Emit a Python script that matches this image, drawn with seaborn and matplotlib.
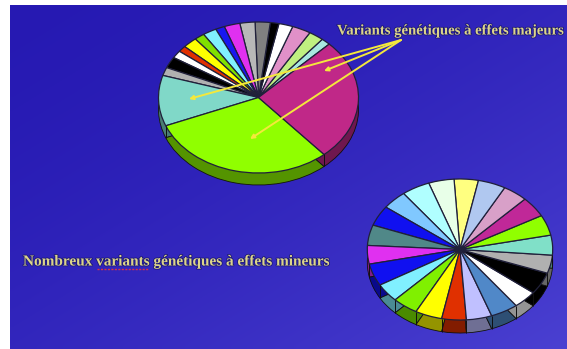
import numpy as np
import matplotlib
matplotlib.use("Agg")
import matplotlib.pyplot as plt
import matplotlib.patheffects as pe
import seaborn as sns

# Top pie: a few major variants, then many small contributions (slice sizes in degrees)
major_sizes = [5.4, 8.7, 10.9, 8.2, 5.0, 8.8, 8.8, 9.2, 5.3, 8.0, 5.9, 8.4, 4.7, 5.8, 8.6, 6.3, 39.0, 109.0, 94.0]
major_colors = ["#a8e8e0", "#c0f080", "#e090c8", "#ffffff", "#000000", "#808080", "#b8b8b8", "#e030f0",
                "#1818f0", "#80f0ff", "#80e000", "#ffff00", "#e03000", "#ffffff", "#000000", "#b0b0b0",
                "#80d8c8", "#90ff00", "#c02888"]

# Bottom pie: many variants of about equal effect
minor_sizes = [15.2, 16.0, 17.8, 15.6, 16.7, 16.9, 15.3, 18.3, 15.3, 16.1, 16.9, 15.4, 16.0, 17.3, 14.9,
               18.2, 15.0, 16.4, 16.9, 16.9, 15.6, 17.3]
minor_colors = ["#ffff80", "#e8ffe8", "#b0ffff", "#80c8ff", "#1010f0", "#508888", "#e030f0", "#1010f0",
                "#80f0ff", "#80f000", "#ffff00", "#e03000", "#c0c0ff", "#5088c8", "#ffffff", "#000000",
                "#b0b0b0", "#80e0c8", "#90ff00", "#c02898", "#d8a0c8", "#b0c8f0"]

major_title = "Variants génétiques à effets majeurs"
minor_title = "Nombreux variants génétiques à effets mineurs"

W, H = 567, 349

sns.set_theme(style="white", rc={"font.family": ["Liberation Serif"]})
fig = plt.figure(figsize=(W / 100, H / 100), dpi=100, facecolor="white")


def pixel_axes(left, top, width, height, z):
    return fig.add_axes([left / W, 1 - (top + height) / H, width / W, height / H], zorder=z)


# Slide background: blue gradient, lighter toward the lower right corner
bg = pixel_axes(10, 5, W - 10, H - 5, 0)
yy, xx = np.mgrid[0:1:60j, 0:1:100j]
mix = ((xx + yy) / 2)[..., None] ** 1.6
bg.imshow(np.array([0.15, 0.10, 0.70]) * (1 - mix) + np.array([0.29, 0.25, 0.82]) * mix,
          aspect="auto", interpolation="bilinear")
bg.axis("off")


def draw_pie(cx, cy, rx, ry, depth, sizes, colors, start):
    d = depth / ry
    ax = pixel_axes(cx - rx * 1.03, cy - ry * 1.03, rx * 2.06, ry * 2.06 + depth, 2)
    side = [tuple(np.array(matplotlib.colors.to_rgb(c)) * 0.58) for c in colors]
    # Stack darker copies downward to form the rim
    for off in np.linspace(d, 0.01, int(depth * 2)):
        ax.pie(sizes, colors=side, startangle=start, center=(0, -off), radius=1,
               wedgeprops=dict(linewidth=0))
    ax.pie(sizes, colors=side, startangle=start, center=(0, -d), radius=1,
           wedgeprops=dict(linewidth=0.6, edgecolor="#101010"))
    edges = np.radians(start + np.cumsum(sizes))
    lower = edges[np.sin(edges) < 0]
    ax.vlines(np.cos(lower), np.sin(lower) - d, np.sin(lower), color="#101010", lw=0.7)
    ax.pie(sizes, colors=colors, startangle=start, center=(0, 0), radius=1,
           wedgeprops=dict(linewidth=0.9, edgecolor="#20203a"))
    ax.set_aspect("auto")
    ax.set_xlim(-1.03, 1.03)
    ax.set_ylim(-1.03 - d, 1.03)
    ax.axis("off")


draw_pie(258.5, 97.5, 100, 75.5, 12, major_sizes, major_colors, 45)
draw_pie(460, 249.5, 92.7, 70.5, 13, minor_sizes, minor_colors, 78.5)

# Overlay in pixel coordinates for captions and pointer lines
top = pixel_axes(0, 0, W, H, 5)
top.set_xlim(0, W)
top.set_ylim(H, 0)
top.axis("off")
top.patch.set_alpha(0)

shadow = [pe.withStroke(linewidth=1.2, foreground="#1c1878")]
top.text(337, 31, major_title, color="#dcd48a", fontsize=10.6, fontweight="bold", va="center",
         path_effects=shadow)
top.text(23, 262, minor_title, color="#dcd48a", fontsize=11, fontweight="bold", va="center",
         path_effects=shadow)
top.plot([97, 149], [268.5, 268.5], color="#d83048", lw=1.0, ls=(0, (1.5, 1)))

for target in [(189, 99), (324, 71), (250, 139)]:
    top.annotate("", xy=target, xytext=(401, 40),
                 arrowprops=dict(arrowstyle="-|>,head_length=0.2,head_width=0.1", color="#f4e83c",
                                 lw=1.4, shrinkA=0, shrinkB=0))

fig.savefig("out.png", dpi=100, facecolor="white")
